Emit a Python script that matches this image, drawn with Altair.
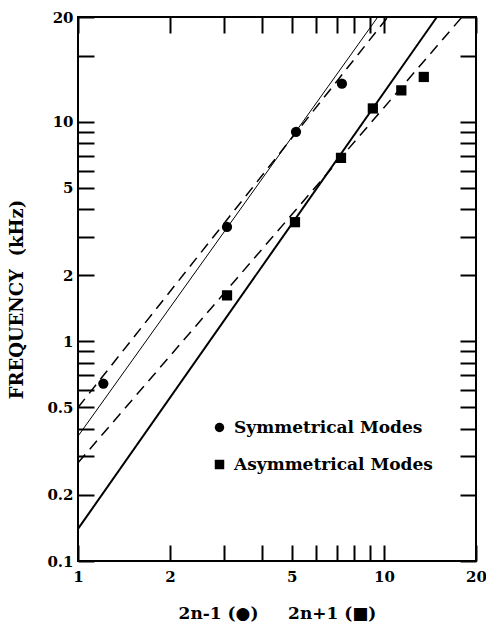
import altair as alt
import pandas as pd

# ---------------- data ----------------
MODES = ["Symmetrical Modes", "Asymmetrical Modes"]

# Symmetrical modes (circles), plotted against 2n-1
SYM_X = [1.21, 3.07, 5.16, 7.29]
SYM_F = [0.643, 3.32, 9.0, 14.9]

# Asymmetrical modes (squares), plotted against 2n+1
ASYM_X = [3.07, 5.12, 7.24, 9.2, 11.4, 13.5]
ASYM_F = [1.62, 3.49, 6.85, 11.5, 13.9, 16.0]

# straight (power-law) reference lines: end points
LINE_NAMES = ["sym_solid", "sym_dashed", "asym_solid", "asym_dashed"]
LINE_X0 = [1, 1, 1, 1]
LINE_F0 = [0.37, 0.50, 0.14, 0.28]
LINE_X1 = [9.55, 10.3, 14.9, 18.0]
LINE_F1 = [30, 30, 30, 30]

# axes
X_DOMAIN = [1, 20]
Y_DOMAIN = [0.1, 30]
X_TICKS = [1, 2, 3, 4, 5, 6, 7, 8, 9, 10, 20]
X_LABEL_VALUES = [1, 2, 5, 10, 20]
X_LABEL_TEXT = ["1", "2", "5", "10", "20"]
Y_TICKS = [0.1, 0.2, 0.3, 0.4, 0.5, 0.6, 0.7, 0.8, 0.9,
           1, 2, 3, 4, 5, 6, 7, 8, 9, 10, 20, 30]
Y_LABEL_VALUES = [0.1, 0.2, 0.5, 1, 2, 5, 10, 30]
Y_LABEL_TEXT = ["0.1", "0.2", "0.5", "1", "2", "5", "10", "20"]

X_TITLE = "2n-1 (\u25cf)\u00a0\u00a0\u00a0\u00a0\u00a02n+1 (\u25a0)"
Y_TITLE = "FREQUENCY\u00a0\u00a0(kHz)"

# ---------------- tables ----------------
rows = []
for name, x0, f0, x1, f1 in zip(LINE_NAMES, LINE_X0, LINE_F0, LINE_X1, LINE_F1):
    rows.append({"line": name, "x": x0, "f": f0, "o": 0})
    rows.append({"line": name, "x": x1, "f": f1, "o": 1})
lines_df = pd.DataFrame(rows)

pts = [{"mode": MODES[0], "x": x, "f": f} for x, f in zip(SYM_X, SYM_F)]
pts += [{"mode": MODES[1], "x": x, "f": f} for x, f in zip(ASYM_X, ASYM_F)]
pts_df = pd.DataFrame(pts)


def label_expr(values, texts):
    expr = "''"
    for v, t in reversed(list(zip(values, texts))):
        expr = f"datum.value == {v} ? '{t}' : ({expr})"
    return expr


W, H = 398, 544
FONT = "DejaVu Serif"
WEIGHT = "bold"

xscale = alt.Scale(type="log", domain=X_DOMAIN, nice=False, zero=False)
yscale = alt.Scale(type="log", domain=Y_DOMAIN, nice=False, zero=False)

tick_common = dict(labels=False, domain=False, grid=False, ticks=True,
                   tickSize=16, tickWidth=2, tickColor="black", title=None)

# layer 1: solid lines + labelled axes
solid = alt.Chart(lines_df).transform_filter(
    alt.FieldOneOfPredicate(field="line", oneOf=["sym_solid", "asym_solid"])
).mark_line(color="black").encode(
    x=alt.X("x:Q", scale=xscale, axis=alt.Axis(
        values=X_LABEL_VALUES, labelExpr=label_expr(X_LABEL_VALUES, X_LABEL_TEXT),
        ticks=False, tickSize=0, domain=False, grid=False, labelFlush=False,
        labelOverlap=False, labelPadding=8, labelFont=FONT, labelFontSize=15,
        labelFontWeight=WEIGHT,
        labelColor="black", title=X_TITLE, titleFont=FONT, titleFontSize=17,
        titleFontWeight=WEIGHT, titleColor="black", titleBaseline="middle",
        titleY=52)),
    y=alt.Y("f:Q", scale=yscale, axis=alt.Axis(
        values=Y_LABEL_VALUES, labelExpr=label_expr(Y_LABEL_VALUES, Y_LABEL_TEXT),
        ticks=False, tickSize=0, domain=False, grid=False, labelFlush=False,
        labelOverlap=False, labelPadding=5, labelFont=FONT, labelFontSize=15,
        labelFontWeight=WEIGHT,
        labelColor="black", title=Y_TITLE, titleFont=FONT, titleFontSize=18,
        titleFontWeight=WEIGHT, titleColor="black", titleBaseline="middle",
        titleX=-61, titleY=282)),
    detail="line:N",
    order="o:Q",
    strokeWidth=alt.StrokeWidth("line:N", scale=alt.Scale(
        domain=["sym_solid", "asym_solid"], range=[1.0, 2.0]), legend=None),
)

# layer 2: dashed lines + inward ticks on bottom and left edges
dashed = alt.Chart(lines_df).transform_filter(
    alt.FieldOneOfPredicate(field="line", oneOf=["sym_dashed", "asym_dashed"])
).mark_line(color="black", strokeWidth=1.5, strokeDash=[11, 7]).encode(
    x=alt.X("x:Q", scale=xscale, axis=alt.Axis(
        values=X_TICKS, orient="top", offset=-H, **tick_common)),
    y=alt.Y("f:Q", scale=yscale, axis=alt.Axis(
        values=Y_TICKS, orient="right", offset=-W, **tick_common)),
    detail="line:N",
    order="o:Q",
)

# layer 3: data points + inward ticks on top and right edges
points = alt.Chart(pts_df).mark_point(filled=True, color="black", opacity=1, size=105).encode(
    x=alt.X("x:Q", scale=xscale, axis=alt.Axis(
        values=X_TICKS, orient="bottom", offset=-H, **tick_common)),
    y=alt.Y("f:Q", scale=yscale, axis=alt.Axis(
        values=Y_TICKS, orient="left", offset=-W, **tick_common)),
    shape=alt.Shape("mode:N", scale=alt.Scale(domain=MODES, range=["circle", "square"]),
                    legend=alt.Legend(orient="none", legendX=133, legendY=402,
                                      title=None, labelFont=FONT, labelFontSize=17,
                                      labelFontWeight=WEIGHT,
                                      labelColor="black", symbolSize=90,
                                      symbolFillColor="black", symbolStrokeWidth=0,
                                      rowPadding=19, labelOffset=6, labelLimit=400)),
)

chart = alt.layer(solid, dashed, points).resolve_axis(
    x="independent", y="independent"
).properties(
    width=W, height=H,
    padding={"left": 78, "top": 17, "right": 10, "bottom": 66},
    autosize=alt.AutoSizeParams(type="none"),
    background="white",
).configure_view(stroke="black", strokeWidth=2)

chart.save("out.html", embed_options={"renderer": "svg", "actions": False})
